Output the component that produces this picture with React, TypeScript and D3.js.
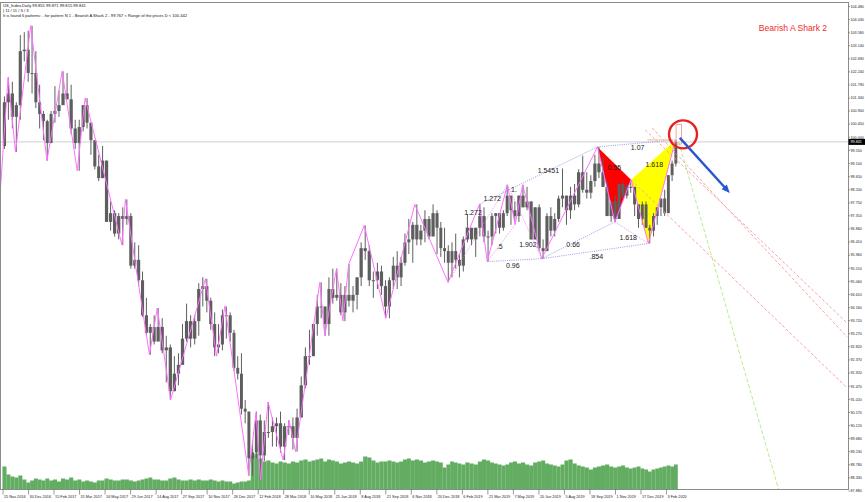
import * as d3 from "d3";

const W = 865;
const H = 502;
const FRAME_R = 848.5;
const FRAME_B = 489.5;

// bottom time labels (every 32 daily bars)
const dateLabels = ["15 Nov 2016", "30 Dec 2016", "15 Feb 2017", "31 Mar 2017", "16 May 2017", "29 Jun 2017", "14 Aug 2017", "27 Sep 2017", "10 Nov 2017", "26 Dec 2017", "12 Feb 2018", "28 Mar 2018", "10 May 2018", "25 Jun 2018", "8 Aug 2018", "21 Sep 2018", "6 Nov 2018", "20 Dec 2018", "6 Feb 2019", "21 Mar 2019", "7 May 2019", "20 Jun 2019", "5 Aug 2019", "18 Sep 2019", "1 Nov 2019", "17 Dec 2019", "3 Feb 2020"];

// right price scale labels
const priceTicks = ["87.880", "88.330", "88.780", "89.230", "89.680", "90.120", "90.570", "91.020", "91.470", "91.920", "92.370", "92.820", "93.270", "93.720", "94.160", "94.610", "95.060", "95.510", "95.960", "96.410", "96.860", "97.310", "97.750", "98.200", "98.650", "99.100", "99.550", "100.000", "100.450", "100.900", "101.340", "101.790", "102.240", "102.690", "103.140", "103.580", "104.030", "104.480"];

const lastPrice = 99.841;

// weekly candles, weeks starting Monday 14 Nov 2016
const firstWeek = "2016-11-14";
const firstOpen = 99.7;
const high16 = [101.4, 102.05, 101.9, 101.2, 103.5, 103.6, 103.65];
const low16 = [99.6, 100.6, 100.3, 99.5, 100.6, 102.6, 101.9];
const close16 = [101.2, 101.5, 100.7, 101.1, 102.95, 103.0, 102.2];
const high17 = [103.82, 102.95, 101.8, 100.9, 100.6, 100.9, 101.75, 101.6, 102.26, 102.2, 101.8, 100.6, 100.6, 101.1, 101.34, 100.5, 99.6, 99.4, 99.7, 99.2, 97.8, 97.5, 97.4, 97.6, 97.87, 97.4, 96.4, 96.3, 95.4, 94.5, 93.6, 93.9, 94.15, 93.8, 93.2, 92.9, 92.5, 92.6, 93.6, 94.3, 93.9, 93.9, 95.0, 95.2, 95.15, 94.5, 94.0, 93.6, 94.1, 94.2, 94.0, 93.4];
const low17 = [101.5, 101.0, 100.3, 99.9, 99.2, 99.8, 100.5, 100.7, 101.2, 101.3, 100.1, 99.6, 98.85, 100.2, 100.3, 99.4, 98.9, 98.5, 98.6, 97.1, 96.8, 96.6, 96.5, 96.3, 97.0, 95.5, 95.5, 94.9, 93.85, 93.2, 92.55, 92.9, 93.1, 92.6, 91.6, 91.0, 91.3, 91.5, 92.4, 93.0, 92.8, 92.9, 93.2, 94.2, 94.0, 93.4, 92.5, 92.6, 92.7, 93.1, 93.0, 92.0];
const close17 = [102.2, 101.2, 100.8, 100.55, 99.8, 100.8, 100.9, 101.1, 101.5, 101.3, 100.3, 99.8, 100.35, 101.1, 100.5, 99.9, 99.0, 98.6, 99.2, 97.1, 97.4, 96.7, 97.3, 97.2, 97.3, 95.6, 95.8, 95.1, 93.9, 93.3, 93.5, 93.0, 93.5, 92.7, 92.8, 91.3, 91.9, 92.2, 93.1, 93.7, 93.1, 93.7, 94.8, 94.9, 94.4, 93.6, 92.8, 92.9, 93.9, 93.9, 93.3, 92.1];
const high18 = [92.5, 92.6, 91.0, 90.6, 89.6, 90.6, 90.5, 90.3, 90.93, 90.4, 90.4, 90.6, 90.2, 90.3, 90.4, 90.7, 91.8, 92.8, 93.4, 93.6, 94.6, 95.03, 94.2, 95.2, 95.5, 95.5, 95.0, 94.9, 95.65, 94.9, 95.2, 96.4, 96.98, 96.3, 95.4, 95.7, 95.6, 95.1, 95.2, 95.9, 96.1, 95.9, 96.7, 97.2, 97.1, 97.7, 97.0, 97.5, 97.3, 97.7, 97.5, 97.1, 96.9];
const low18 = [91.7, 90.5, 90.2, 88.4, 88.4, 89.0, 88.25, 88.9, 89.7, 89.4, 89.4, 89.2, 88.94, 89.8, 89.3, 89.23, 90.4, 91.4, 92.2, 92.5, 93.2, 93.8, 93.2, 93.2, 94.3, 94.4, 93.9, 93.7, 94.2, 94.0, 94.1, 94.9, 95.8, 94.9, 94.5, 94.8, 94.6, 93.8, 93.8, 94.8, 94.8, 94.9, 95.6, 96.0, 95.7, 96.3, 96.3, 96.4, 96.5, 96.8, 96.0, 95.9, 95.7];
const close18 = [91.9, 90.7, 90.6, 89.0, 89.2, 90.3, 89.1, 89.9, 89.9, 90.1, 90.2, 89.4, 90.1, 90.1, 89.7, 90.4, 91.5, 92.5, 92.5, 93.6, 94.2, 94.2, 93.6, 94.8, 94.5, 94.6, 94.0, 94.6, 94.4, 94.6, 95.2, 96.2, 96.1, 95.1, 95.1, 95.4, 94.9, 94.2, 95.1, 95.6, 95.2, 95.7, 96.4, 96.5, 97.0, 96.5, 96.8, 97.2, 96.6, 97.4, 96.9, 96.2, 96.1];
const high19 = [96.3, 96.4, 96.7, 96.0, 96.6, 97.37, 96.9, 96.9, 97.71, 97.6, 96.8, 97.4, 97.4, 97.4, 97.5, 98.37, 98.0, 97.8, 98.0, 98.37, 98.3, 97.8, 97.6, 97.7, 96.5, 97.4, 97.6, 97.4, 98.0, 98.93, 98.0, 98.3, 98.4, 98.9, 99.37, 98.8, 98.7, 99.4, 99.67, 99.3, 98.5, 97.8, 98.0, 98.4, 98.5, 98.4, 98.54, 98.3, 97.7, 97.8, 97.8, 97.0];
const low19 = [95.03, 95.2, 95.5, 95.2, 95.4, 96.4, 96.3, 95.9, 96.6, 96.4, 95.74, 96.3, 96.7, 96.7, 96.8, 97.3, 97.0, 97.1, 97.1, 97.6, 97.5, 96.5, 96.5, 96.1, 95.84, 96.1, 96.6, 96.6, 97.1, 97.6, 97.0, 97.2, 97.5, 97.6, 98.1, 97.9, 97.9, 98.3, 98.6, 98.3, 97.3, 97.1, 97.1, 97.2, 97.9, 97.9, 98.1, 97.3, 96.9, 97.0, 96.9, 96.36];
const close19 = [95.7, 96.1, 95.8, 95.6, 96.5, 96.9, 96.5, 96.9, 97.3, 96.6, 96.6, 97.3, 97.4, 96.9, 97.4, 98.0, 97.5, 97.3, 98.0, 97.6, 97.8, 96.5, 97.6, 96.2, 96.1, 97.3, 96.8, 97.2, 97.9, 98.0, 97.5, 98.0, 97.7, 98.8, 98.2, 98.1, 98.5, 99.1, 98.8, 98.3, 97.3, 97.8, 97.2, 98.4, 98.0, 98.3, 98.3, 97.7, 97.2, 97.7, 96.9, 96.8];
const high20 = [97.4, 97.6, 97.9, 98.2, 98.7, 99.2, 99.91];
const low20 = [96.6, 97.0, 97.3, 97.3, 97.4, 98.5, 99.0];
const close20 = [97.3, 97.6, 97.9, 97.4, 98.7, 99.1, 99.84];

// weekly tick volume (thousands)
const vol16 = [46, 30, 26, 24, 28, 20, 14];
const vol17 = [18, 22, 20, 18, 22, 18, 20, 16, 22, 20, 24, 18, 20, 16, 18, 16, 14, 18, 18, 22, 20, 18, 18, 20, 20, 18, 16, 18, 20, 22, 24, 20, 20, 18, 18, 22, 24, 20, 18, 18, 20, 18, 20, 18, 18, 20, 18, 16, 18, 16, 16, 12];
const vol18 = [14, 16, 16, 18, 68, 72, 62, 56, 58, 54, 52, 56, 54, 52, 56, 54, 58, 60, 56, 58, 60, 62, 56, 60, 58, 56, 52, 54, 56, 54, 52, 56, 66, 64, 58, 54, 56, 56, 58, 56, 54, 56, 60, 62, 58, 60, 58, 54, 56, 58, 56, 54, 44];
const vol19 = [50, 56, 54, 52, 50, 54, 52, 50, 56, 60, 58, 54, 52, 50, 48, 50, 54, 56, 52, 54, 50, 48, 54, 56, 58, 52, 50, 48, 46, 50, 58, 60, 52, 48, 46, 44, 40, 44, 46, 48, 50, 46, 44, 46, 48, 44, 42, 44, 46, 42, 40, 36];
const vol20 = [40, 42, 44, 46, 48, 46, 50];

// zigzag swing points
const zigzag: [string, number][] = [
  ["2016-11-10", 98.1], ["2016-11-24", 102.05], ["2016-12-07", 99.5], ["2017-01-03", 103.82],
  ["2017-02-02", 99.2], ["2017-03-01", 102.26], ["2017-03-27", 98.85], ["2017-04-10", 101.34],
  ["2017-06-14", 96.32], ["2017-06-20", 97.87], ["2017-08-02", 92.55], ["2017-08-16", 94.15],
  ["2017-09-08", 91.01], ["2017-11-07", 95.15], ["2017-11-27", 92.5], ["2017-12-12", 94.22],
  ["2018-01-25", 88.44], ["2018-02-08", 90.57], ["2018-02-16", 88.25], ["2018-03-01", 90.93],
  ["2018-03-27", 88.94], ["2018-04-06", 90.3], ["2018-04-17", 89.23], ["2018-05-29", 95.03],
  ["2018-06-07", 93.2], ["2018-06-28", 95.5], ["2018-07-09", 93.7], ["2018-07-19", 95.65],
  ["2018-08-15", 96.98], ["2018-09-21", 93.8], ["2018-11-12", 97.7], ["2019-01-10", 95.03],
  ["2019-03-07", 97.71], ["2019-03-20", 95.74], ["2019-04-26", 98.37], ["2019-05-10", 97.0],
  ["2019-05-23", 98.37], ["2019-06-25", 95.84], ["2019-10-01", 99.67], ["2019-10-31", 97.1],
  ["2019-11-29", 98.54], ["2019-12-31", 96.36], ["2020-02-20", 99.91],
];

// harmonic pattern points
const pts: Record<string, [string, number]> = {
  J: ["2019-01-10", 95.03],
  P: ["2019-03-07", 97.71],
  A: ["2019-03-20", 95.74],
  B: ["2019-04-26", 98.37],
  C: ["2019-05-10", 97.0],
  C2: ["2019-05-23", 98.37],
  D: ["2019-06-25", 95.84],
  E: ["2019-10-01", 99.67],
  F: ["2019-10-31", 97.1],
  G: ["2019-11-29", 98.54],
  Hh: ["2019-12-31", 96.36],
  I: ["2020-02-20", 99.91],
};
const blueDotted: [string, string][] = [["P", "E"], ["A", "D"], ["D", "Hh"], ["D", "F"], ["E", "I"]];
const pinkDotted: [string, string][] = [["A", "C"], ["B", "D"], ["F", "Hh"], ["J", "B"]];

const ratioLabels: [string, string, number][] = [
  ["1.272", "2019-02-24", 97.41], ["1.272", "2019-03-29", 97.89], ["1.", "2019-05-08", 98.2],
  ["1.5451", "2019-07-07", 98.85], [".5", "2019-04-12", 96.24], ["1.902", "2019-06-01", 96.31],
  ["0.96", "2019-05-06", 95.62], ["0.66", "2019-08-20", 96.31], [".854", "2019-09-29", 95.9],
  ["1.618", "2019-11-24", 96.58], ["0.55", "2019-10-30", 98.95], ["1.618", "2020-01-11", 99.05],
  ["1.07", "2019-12-11", 99.64],
];

// projection lines
const fibLines: [string, number, string, number][] = [
  ["2019-12-25", 100.25, "2021-01-08", 93.63],
  ["2020-01-07", 100.32, "2021-01-08", 93.15],
  ["2019-11-29", 98.54, "2021-01-08", 91.41],
];
const greenLine: [string, number, string, number] = ["2020-02-26", 99.84, "2020-09-03", 87.8];
const arrow: [string, number, string, number] = ["2020-02-28", 99.98, "2020-06-01", 98.09];
const dRange = [99.767, 100.442];
const dRangeDates = ["2020-02-21", "2020-03-02"];
const peachLine: [string, string, number] = ["2019-12-29", "2020-02-15", 99.91];
const circleAt: [string, number] = ["2020-03-05", 100.1];

export default function App() {
  const parseLabel = d3.timeParse("%d %b %Y");
  const pd = d3.timeParse("%Y-%m-%d");
  const labelDates = dateLabels.map((s) => parseLabel(s) as Date);
  const x = d3.scaleTime().domain(labelDates).range(labelDates.map((_, i) => 3 + i * 25.52));
  const y = d3.scaleLinear().domain([87.88, 104.48]).range([491, 6.5]);
  const volY = d3.scaleLinear().domain([0, 100]).range([FRAME_B, FRAME_B - 50]);

  const highs = [...high16, ...high17, ...high18, ...high19, ...high20];
  const lows = [...low16, ...low17, ...low18, ...low19, ...low20];
  const closes = [...close16, ...close17, ...close18, ...close19, ...close20];
  const opens = [firstOpen, ...closes.slice(0, -1)];
  const vols = [...vol16, ...vol17, ...vol18, ...vol19, ...vol20];
  const w0 = pd(firstWeek) as Date;
  const weekStartX = d3.range(highs.length + 1).map((i) => x(d3.timeMonday.offset(w0, i)));

  const P = (k: string) => [x(pd(pts[k][0]) as Date), y(pts[k][1])];
  const zz = d3.line<[string, number]>().x((d) => x(pd(d[0]) as Date)).y((d) => y(d[1]));

  const font = "'Liberation Sans', Arial, sans-serif";
  const ax = (d: string) => x(pd(d) as Date);

  const [a0, a1] = [[ax(arrow[0]), y(arrow[1])], [ax(arrow[2]), y(arrow[3])]];
  const ang = Math.atan2(a1[1] - a0[1], a1[0] - a0[0]);
  const head = (len: number, spread: number) =>
    [a1, [a1[0] - len * Math.cos(ang - spread), a1[1] - len * Math.sin(ang - spread)], [a1[0] - len * Math.cos(ang + spread), a1[1] - len * Math.sin(ang + spread)]]
      .map((p) => p.join(",")).join(" ");

  return (
    <svg width={W} height={H} style={{ position: "absolute", left: 0, top: 0, background: "#fff" }} fontFamily={font}>
      <defs>
        <clipPath id="plot">
          <rect x={1} y={3} width={FRAME_R - 1} height={FRAME_B - 3} />
        </clipPath>
      </defs>

      {/* current price line */}
      <line x1={1} x2={FRAME_R} y1={y(lastPrice)} y2={y(lastPrice)} stroke="#cfcfcf" strokeWidth={1} />

      {/* volumes */}
      <g fill="#63ad63">
        {vols.map((v, i) => (
          <rect key={i} x={weekStartX[i]} width={weekStartX[i + 1] - weekStartX[i] + 0.1} y={volY(v)} height={FRAME_B - volY(v)} />
        ))}
      </g>

      {/* pattern triangles */}
      <polygon points={["E", "F", "G"].map((k) => P(k).join(",")).join(" ")} fill="#ff0000" />
      <polygon points={["G", "Hh", "I"].map((k) => P(k).join(",")).join(" ")} fill="#ffff00" />

      {/* weekly candles */}
      <g fill="#5e5e5e" stroke="#5e5e5e">
        {highs.map((h, i) => {
          const x0 = weekStartX[i];
          const wd = weekStartX[i + 1] - x0;
          const top = Math.min(opens[i], closes[i]);
          const bot = Math.max(opens[i], closes[i]);
          return (
            <g key={i}>
              <line x1={x0 + wd / 2} x2={x0 + wd / 2} y1={y(h)} y2={y(lows[i])} strokeWidth={1} />
              <rect x={x0 + 0.4} width={wd - 0.8} y={y(bot)} height={Math.max(1, y(top) - y(bot))} stroke="none" />
            </g>
          );
        })}
      </g>

      <g clipPath="url(#plot)">
        {/* projection lines */}
        {fibLines.map((l, i) => (
          <line key={i} x1={ax(l[0])} y1={y(l[1])} x2={ax(l[2])} y2={y(l[3])} stroke="#f5a3a3" strokeWidth={1} strokeDasharray="3,2" />
        ))}
        <line x1={ax(greenLine[0])} y1={y(greenLine[1])} x2={ax(greenLine[2])} y2={y(greenLine[3])} stroke="#b9ec8c" strokeWidth={1} strokeDasharray="4,2" />

        {/* zigzag */}
        <path d={zz(zigzag) as string} fill="none" stroke="#ff70ff" strokeWidth={1} />

        {/* pattern dotted legs */}
        {blueDotted.map(([a, b], i) => {
          const p = P(a), q = P(b);
          return <line key={"b" + i} x1={p[0]} y1={p[1]} x2={q[0]} y2={q[1]} stroke="#7f7fe0" strokeWidth={0.8} strokeDasharray="1,1.2" />;
        })}
        {pinkDotted.map(([a, b], i) => {
          const p = P(a), q = P(b);
          return <line key={"p" + i} x1={p[0]} y1={p[1]} x2={q[0]} y2={q[1]} stroke="#e07ce0" strokeWidth={0.8} strokeDasharray="1,1.2" />;
        })}

        {/* D zone */}
        <line x1={ax(peachLine[0])} x2={ax(peachLine[1])} y1={y(peachLine[2])} y2={y(peachLine[2])} stroke="#f6c8a6" strokeWidth={1.2} />
        <rect x={ax(dRangeDates[0])} y={y(dRange[1])} width={ax(dRangeDates[1]) - ax(dRangeDates[0])} height={y(dRange[0]) - y(dRange[1])} fill="none" stroke="#f09090" strokeWidth={0.8} />
        <circle cx={ax(circleAt[0])} cy={y(circleAt[1])} r={14} fill="none" stroke="#e82020" strokeWidth={2.4} />

        {/* arrow */}
        <line x1={a0[0]} y1={a0[1]} x2={a1[0] - 6 * Math.cos(ang)} y2={a1[1] - 6 * Math.sin(ang)} stroke="#2a55d0" strokeWidth={2.4} />
        <polygon points={head(9, 0.4)} fill="#2a55d0" />
      </g>

      {/* ratio labels */}
      <g fontSize={7} fill="#222" textAnchor="middle">
        {ratioLabels.map(([t, d, v], i) => (
          <text key={i} x={ax(d)} y={y(v) + 2.5}>{t}</text>
        ))}
      </g>

      {/* frame */}
      <rect x={0.5} y={2.5} width={FRAME_R - 0.5} height={FRAME_B - 2.5} fill="none" stroke="#8c8c8c" strokeWidth={1} />

      {/* price axis */}
      <g fontSize={3.7} fill="#222">
        {priceTicks.map((t) => (
          <g key={t}>
            <line x1={FRAME_R} x2={FRAME_R + 1.5} y1={y(+t)} y2={y(+t)} stroke="#555" strokeWidth={0.6} />
            <text x={FRAME_R + 2} y={y(+t) + 1.3}>{t}</text>
          </g>
        ))}
        <rect x={FRAME_R} y={y(lastPrice) - 3} width={W - FRAME_R} height={6} fill="#000" />
        <text x={FRAME_R + 2} y={y(lastPrice) + 1.3} fill="#fff">{lastPrice.toFixed(3)}</text>
      </g>

      {/* time axis */}
      <g fontSize={3.8} fill="#222">
        {dateLabels.map((t, i) => (
          <g key={t}>
            <line x1={x(labelDates[i])} x2={x(labelDates[i])} y1={FRAME_B} y2={FRAME_B + 5} stroke="#555" strokeWidth={0.6} />
            <text x={x(labelDates[i]) + 1} y={FRAME_B + 8}>{t}</text>
          </g>
        ))}
      </g>

      {/* header */}
      <g fontSize={4.1} fill="#111">
        <text x={3} y={7}>US_Index,Daily  99.855 99.871 99.815 99.841</text>
        <text x={3} y={12}>| 11 / 11 / 3 / 3</text>
        <text x={3} y={17}>It is found 6 patterns:  -  for pattern N 1 - Bearish A Shark 2 - 99.767 &lt; Range of the prices D &lt; 100.442</text>
      </g>

      <text x={793} y={31} fontSize={8.6} fill="#f02a2a" textAnchor="middle">Bearish A Shark 2</text>
    </svg>
  );
}
